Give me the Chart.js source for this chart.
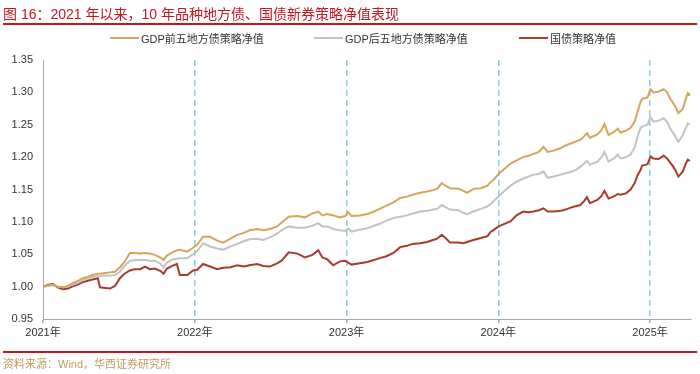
<!DOCTYPE html>
<html>
<head>
<meta charset="utf-8">
<script src="https://cdn.jsdelivr.net/npm/chart.js@4.4.1/dist/chart.umd.min.js"></script>
<style>
  html, body { margin: 0; padding: 0; background: #ffffff; }
  #wrap { position: relative; width: 700px; height: 374px; overflow: hidden; background: #fff; }
  #c { position: absolute; left: 0; top: 0; }
  .title { position: absolute; left: 3px; top: 3px; font-family: "Liberation Sans", "Noto Sans CJK SC", sans-serif; font-size: 14px; color: #C8161D; white-space: nowrap; }
  .rule { position: absolute; left: 3px; width: 694px; height: 1.5px; background: #C8161D; }
  .legend { position: absolute; top: 30px; height: 16px; font-family: "Liberation Sans", "Noto Sans CJK SC", sans-serif; font-size: 11px; color: #333; white-space: nowrap; display: flex; align-items: center; }
  .legend i { display: inline-block; width: 29px; height: 2px; margin-right: 2px; }
  .src { position: absolute; left: 3px; top: 355px; font-family: "Liberation Sans", "Noto Sans CJK SC", sans-serif; font-size: 11px; color: #C49A5C; white-space: nowrap; }
</style>
</head>
<body>
<div id="wrap">
  <canvas id="c" width="700" height="374"></canvas>
  <div class="title">图 16：2021 年以来，10 年品种地方债、国债新券策略净值表现</div>
  <div class="rule" style="top:23px"></div>
  <div class="legend" id="lg1" style="left:110px"><i></i><span></span></div>
  <div class="legend" id="lg2" style="left:314px"><i></i><span></span></div>
  <div class="legend" id="lg3" style="left:519px"><i></i><span></span></div>
  <div class="rule" style="top:351px"></div>
  <div class="src">资料来源：Wind，华西证券研究所</div>
</div>
<script>
// ---------------- data ----------------
const seriesNames = ['GDP前五地方债策略净值', 'GDP后五地方债策略净值', '国债策略净值'];
const yearTicks = [2021, 2022, 2023, 2024, 2025];

const dates = [
  '2021-01-04','2021-01-13','2021-01-25','2021-02-05','2021-02-18','2021-03-02','2021-03-12','2021-03-26','2021-04-07','2021-04-19','2021-04-30','2021-05-13','2021-05-18','2021-05-31','2021-06-11','2021-06-23','2021-07-05','2021-07-16','2021-07-29','2021-08-10','2021-08-23','2021-09-03','2021-09-15','2021-09-27','2021-10-11','2021-10-18','2021-10-26','2021-11-08','2021-11-19','2021-11-26','2021-12-14','2021-12-28',
  '2022-01-07','2022-01-21','2022-02-07','2022-02-24','2022-03-10','2022-03-28','2022-04-13','2022-04-29','2022-05-13','2022-05-31','2022-06-15','2022-07-01','2022-07-18','2022-07-29','2022-08-15','2022-09-05','2022-09-23','2022-10-11','2022-10-25','2022-11-04','2022-11-16','2022-11-30','2022-12-16','2022-12-29',
  '2023-01-05','2023-01-13','2023-02-02','2023-02-20','2023-03-08','2023-03-22','2023-04-07','2023-04-24','2023-05-10','2023-05-26','2023-06-09','2023-06-27','2023-07-14','2023-07-28','2023-08-07','2023-08-18','2023-08-29','2023-09-07','2023-09-27','2023-10-09','2023-10-18','2023-11-02','2023-11-20','2023-12-06','2023-12-13','2023-12-22',
  '2024-01-02','2024-01-16','2024-01-31','2024-02-14','2024-03-01','2024-03-14','2024-03-26','2024-04-08','2024-04-19','2024-04-29','2024-05-14','2024-05-31','2024-06-11','2024-06-24','2024-07-05','2024-07-17','2024-07-26','2024-08-02','2024-08-09','2024-08-20','2024-08-27','2024-09-06','2024-09-13','2024-09-23','2024-10-08','2024-10-15','2024-10-22','2024-11-04','2024-11-15','2024-11-25','2024-12-02','2024-12-09','2024-12-13','2024-12-20','2024-12-26',
  '2025-01-02','2025-01-09','2025-01-21','2025-02-03','2025-02-11','2025-02-18','2025-02-25','2025-03-03','2025-03-10','2025-03-17','2025-03-21','2025-03-28','2025-04-02','2025-04-07'
];

const gdpTop5 = [
  1.000,1.002,1.003,1.000,0.999,1.001,1.005,1.009,1.013,1.015,1.018,1.020,1.020,1.021,1.022,1.023,1.030,1.038,1.052,1.052,1.051,1.052,1.051,1.049,1.045,1.041,1.048,1.053,1.056,1.057,1.054,1.060,
  1.065,1.077,1.077,1.071,1.068,1.074,1.080,1.083,1.087,1.089,1.087,1.089,1.093,1.099,1.108,1.109,1.107,1.113,1.116,1.110,1.112,1.110,1.107,1.109,
  1.115,1.109,1.110,1.112,1.116,1.120,1.125,1.130,1.137,1.139,1.142,1.145,1.147,1.149,1.151,1.160,1.155,1.152,1.151,1.148,1.145,1.151,1.152,1.156,1.161,1.166,
  1.174,1.182,1.190,1.195,1.200,1.202,1.205,1.208,1.216,1.208,1.210,1.214,1.218,1.221,1.224,1.227,1.232,1.237,1.230,1.233,1.235,1.242,1.251,1.234,1.240,1.244,1.238,1.241,1.245,1.255,1.270,1.285,1.290,1.291,1.292,
  1.305,1.300,1.301,1.305,1.300,1.291,1.284,1.278,1.268,1.272,1.275,1.290,1.299,1.295
];

const gdpBottom5 = [
  1.000,1.001,1.002,1.000,0.999,1.000,1.003,1.006,1.010,1.013,1.015,1.016,1.016,1.017,1.017,1.018,1.023,1.032,1.040,1.041,1.041,1.041,1.040,1.040,1.035,1.030,1.037,1.042,1.043,1.044,1.044,1.050,
  1.055,1.067,1.062,1.059,1.057,1.062,1.066,1.070,1.073,1.074,1.072,1.076,1.082,1.087,1.093,1.091,1.091,1.094,1.098,1.093,1.093,1.089,1.087,1.086,
  1.090,1.085,1.088,1.090,1.094,1.097,1.102,1.106,1.108,1.110,1.113,1.116,1.117,1.119,1.120,1.126,1.122,1.119,1.118,1.114,1.112,1.116,1.120,1.124,1.127,1.133,
  1.139,1.148,1.156,1.162,1.167,1.170,1.173,1.174,1.178,1.168,1.170,1.173,1.175,1.177,1.180,1.185,1.190,1.194,1.188,1.191,1.193,1.200,1.208,1.193,1.199,1.204,1.198,1.200,1.204,1.215,1.232,1.245,1.247,1.249,1.250,
  1.262,1.255,1.256,1.260,1.254,1.245,1.238,1.232,1.224,1.230,1.234,1.245,1.252,1.250
];

const treasury = [
  1.000,1.003,1.004,0.999,0.996,0.997,1.000,1.003,1.007,1.009,1.011,1.013,0.999,0.998,0.997,1.001,1.013,1.020,1.025,1.027,1.027,1.031,1.027,1.028,1.024,1.020,1.028,1.032,1.035,1.018,1.018,1.025,
  1.026,1.035,1.031,1.027,1.029,1.030,1.033,1.031,1.033,1.035,1.032,1.031,1.036,1.040,1.053,1.051,1.045,1.049,1.056,1.045,1.042,1.033,1.039,1.040,
  1.037,1.034,1.036,1.038,1.041,1.044,1.047,1.052,1.061,1.063,1.066,1.067,1.069,1.072,1.074,1.080,1.074,1.068,1.068,1.067,1.069,1.072,1.075,1.078,1.084,1.088,
  1.093,1.097,1.101,1.110,1.116,1.115,1.116,1.118,1.121,1.116,1.116,1.117,1.119,1.122,1.124,1.126,1.132,1.138,1.129,1.132,1.134,1.140,1.148,1.136,1.140,1.143,1.142,1.144,1.150,1.160,1.172,1.180,1.187,1.188,1.189,
  1.201,1.198,1.197,1.202,1.198,1.192,1.186,1.180,1.170,1.175,1.178,1.190,1.196,1.194
];

// ---------------- helpers ----------------
function toYearFrac(s) {
  const [y, m, d] = s.split('-').map(Number);
  const start = Date.UTC(y, 0, 1), end = Date.UTC(y + 1, 0, 1);
  return y + (Date.UTC(y, m - 1, d) - start) / (end - start);
}
const xs = dates.map(toYearFrac);
const pts = arr => arr.map((v, i) => ({ x: xs[i], y: v }));

const colors = ['#D3A65C', '#C3C3C3', '#A83A2E'];
[1, 2, 3].forEach(k => {
  const el = document.getElementById('lg' + k);
  el.querySelector('i').style.background = colors[k - 1];
  el.querySelector('span').textContent = seriesNames[k - 1];
});

const tickFont = { family: '"Liberation Sans", "Noto Sans CJK SC", sans-serif', size: 11 };

new Chart(document.getElementById('c'), {
  type: 'line',
  data: {
    datasets: [
      { label: seriesNames[0], data: pts(gdpTop5), borderColor: colors[0] },
      { label: seriesNames[1], data: pts(gdpBottom5), borderColor: colors[1] },
      { label: seriesNames[2], data: pts(treasury), borderColor: colors[2] }
    ].map(d => Object.assign(d, { borderWidth: 2, pointRadius: 0, tension: 0, fill: false }))
  },
  options: {
    responsive: false,
    animation: false,
    events: [],
    layout: { padding: { top: 60, right: 9, left: 0, bottom: 31 } },
    plugins: { legend: { display: false }, title: { display: false }, tooltip: { enabled: false } },
    scales: {
      x: {
        type: 'linear',
        min: 2021,
        max: 2025.27,
        afterBuildTicks: s => { s.ticks = yearTicks.map(v => ({ value: v })); },
        afterFit: s => { s.height = 24; },
        ticks: { callback: v => v + '年', color: '#333', font: tickFont, padding: 3, maxRotation: 0, autoSkip: false },
        grid: {
          drawOnChartArea: true,
          drawTicks: true,
          tickLength: 4,
          tickColor: '#A6A6A6',
          lineWidth: 1.5,
          color: c => (c.tick && c.tick.value === yearTicks[0]) ? 'rgba(0,0,0,0)' : '#86CCE2'
        },
        border: { display: true, color: '#A6A6A6', width: 1, dash: [6, 4] }
      },
      y: {
        min: 0.95,
        max: 1.35,
        afterFit: s => { s.width = 43; },
        ticks: { stepSize: 0.05, callback: v => Number(v).toFixed(2), color: '#333', font: tickFont, padding: 10 },
        grid: { display: true, drawOnChartArea: false, drawTicks: false },
        border: { display: true, color: '#A6A6A6', width: 1 }
      }
    }
  }
});
</script>
</body>
</html>
